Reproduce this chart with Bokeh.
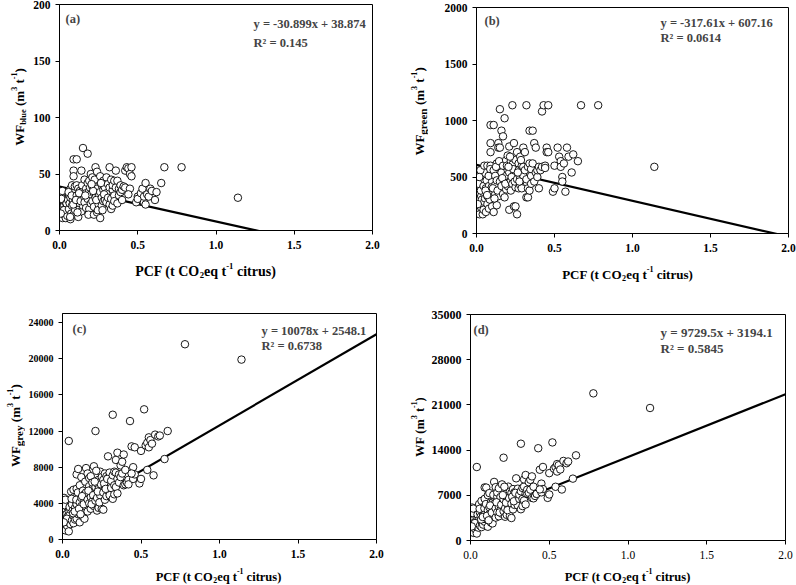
import math
from bokeh.plotting import figure
from bokeh.layouts import column, row
from bokeh.models import Label, Range1d, FixedTicker, NumeralTickFormatter
from bokeh.embed import file_html
from bokeh.resources import INLINE

# ---------------- data ----------------
pcf = [0.005,0.01,0.01,0.015,0.02,0.02,0.02,0.025,0.03,0.03,0.03,0.035,0.04,0.04,0.04,0.045,0.05,0.05,0.05,0.012,0.018,0.028,0.045,0.008,
       0.055,0.06,0.06,0.065,0.07,0.07,0.07,0.075,0.08,0.08,0.085,0.09,0.09,0.09,0.09,0.095,0.10,0.10,0.10,0.058,0.068,0.078,0.088,0.098,
       0.11,0.11,0.11,0.12,0.12,0.12,0.13,0.13,0.13,0.14,0.14,0.14,0.15,0.15,0.15,0.105,0.115,0.125,0.135,0.145,
       0.16,0.16,0.16,0.17,0.17,0.17,0.18,0.18,0.18,0.19,0.19,0.19,0.20,0.20,0.20,0.165,0.185,0.195,
       0.21,0.21,0.21,0.22,0.22,0.22,0.23,0.23,0.23,0.24,0.24,0.24,0.25,0.25,0.25,0.215,0.225,0.235,0.245,0.205,
       0.26,0.26,0.26,0.27,0.27,0.27,0.28,0.28,0.28,0.29,0.29,0.29,0.30,0.30,0.30,0.265,0.275,0.285,
       0.31,0.31,0.32,0.32,0.32,0.33,0.33,0.33,0.34,0.34,0.34,0.35,0.35,0.35,
       0.36,0.36,0.37,0.37,0.38,0.38,0.39,0.39,0.40,0.40,
       0.41,0.42,0.42,0.43,0.44,0.45,0.45,0.46,0.46,0.44,
       0.49,0.50,0.50,0.52,0.53,0.54,0.54,0.55,0.55,0.56,
       0.57,0.58,0.59,0.61,0.62,0.65,0.67,0.78,1.14]

wf_blue = [24,31,20,27,11,32,17,26,14,22,28,19,11,30,25,16,33,21,13,28,35,18,24,15,
           27,32,19,24,10,29,37,15,40,22,27,63,53,48,14,30,36,18,25,34,12,31,23,39,
           63,40,31,12,28,37,20,35,24,53,17,30,73,38,22,27,16,33,26,40,
           45,29,25,37,20,33,68,42,28,19,35,44,32,24,50,31,14,38,
           47,26,39,14,33,21,56,42,29,16,37,52,30,44,23,35,45,27,18,41,
           11,48,34,22,40,29,36,26,44,31,38,27,47,33,25,42,18,32,
           29,41,56,23,38,19,45,28,36,22,40,31,44,26,
           53,38,44,24,37,31,34,40,27,36,
           39,53,38,56,55,50,37,56,48,32,
           25,30,28,33,37,25,30,42,23,32,
           30,37,35,27,34,42,56,56,29]

wf_green = [360,470,300,400,170,420,250,560,230,330,480,300,170,450,380,210,600,350,280,440,500,380,420,260,
            310,400,190,470,260,600,330,380,220,420,300,960,800,720,600,520,350,460,240,380,340,510,570,410,
            960,190,560,430,350,510,620,470,250,800,330,760,1100,760,460,400,310,590,380,640,
            910,540,420,860,350,600,1020,470,320,650,510,390,560,420,690,490,440,600,
            770,210,540,470,640,380,1135,610,440,240,800,520,240,650,410,680,500,570,460,590,
            170,720,480,400,620,560,490,680,430,600,530,400,760,590,510,540,460,650,
            720,560,1135,320,480,320,590,400,910,380,620,510,440,570,
            910,620,800,460,760,540,500,560,400,590,
            560,590,1080,1135,600,760,720,1135,720,580,
            370,600,400,760,680,640,590,500,460,620,
            370,760,680,540,700,640,1135,1135,590]

wf_grey = [2600,4600,3000,3400,1000,4000,2100,2800,1500,2500,3600,1900,900,10900,3100,2700,4000,3300,1700,3800,4400,2300,3600,1900,
           5300,3900,2100,3200,1800,5500,2600,4700,2200,3500,4200,7200,5600,3900,2300,4900,7800,2800,3300,4500,2900,3100,4400,5200,
           6000,1900,4100,6900,3700,4600,3100,5400,2500,5000,2300,4300,7900,3600,5200,3400,2800,4800,3900,6400,
           7300,4400,3100,5900,4000,6800,7000,4700,3400,5600,4200,6300,8100,3700,5000,5400,3900,4900,
           12000,4300,5800,3200,6200,4600,5600,6600,3500,5100,7500,4900,5700,6900,3400,7600,5300,4100,6100,6400,
           3300,6600,5200,4400,7300,5900,6100,4800,7000,5400,6800,9200,6300,7400,4900,6200,5600,6700,
           5700,6500,13800,4500,7100,5000,7500,6000,7400,5800,8800,9600,5100,6700,
           6300,7200,8200,6900,8600,7300,9400,6000,6100,7700,
           6300,6600,6100,13100,10300,8000,6700,10200,7200,7300,
           6200,9800,6700,14400,10400,10700,7700,11300,10200,11000,
           10600,7100,11600,11400,11500,8900,12000,21600,19900]

wf_total = [2980,5100,3320,3830,1180,4450,2370,3390,1740,2850,4110,2220,1080,11380,3510,2930,4630,3670,1990,4270,4940,2700,4040,2180,
            5640,4330,2310,3690,2070,6130,2970,5100,2460,3940,4530,8220,6450,4670,2910,5450,8190,3280,3570,4910,3250,3640,4990,5650,
            7020,2130,4690,7340,4080,5150,3740,5910,2770,5850,2650,5090,9070,4400,5680,3830,3130,5420,4310,7080,
            8260,4970,3550,6800,4370,7430,8090,5210,3750,6270,4750,6730,8690,4140,5740,5920,4350,5540,
            12820,4540,6380,3680,6870,5000,6790,7250,3970,5360,8340,5470,5970,7590,3830,8320,5850,4700,6580,7030,
            3480,7370,5710,4820,7960,6490,6630,5510,7470,6030,7370,9630,7110,8020,5440,6780,6080,7380,
            6450,7100,14990,4840,7620,5340,8140,6430,8350,6200,9460,10140,5580,7300,
            7260,7860,9040,7380,9400,7870,9930,6600,6530,8330,
            6900,7240,7220,14290,10960,8810,7460,11390,7970,7910,
            6600,10430,7130,15190,11120,11370,8320,11840,10680,11650,
            11000,7900,12320,11970,12230,9580,13190,22790,20520]

slopes = [-30.899, -317.61, 10078, 9729.5]
intercepts = [38.874, 607.16, 2548.1, 3194.1]
equations = ["y = -30.899x + 38.874", "y = -317.61x + 607.16", "y = 10078x + 2548.1", "y = 9729.5x + 3194.1"]
r2_labels = ["R\u00b2 = 0.145", "R\u00b2 = 0.0614", "R\u00b2 = 0.6738", "R\u00b2 = 0.5845"]
tags = ["(a)", "(b)", "(c)", "(d)"]
y_subscripts = ["blue", "green", "grey", ""]
y_max = [200, 2000, 25000, 35000]
y_ticks = [[0, 50, 100, 150, 200],
           [0, 500, 1000, 1500, 2000],
           [0, 4000, 8000, 12000, 16000, 20000, 24000],
           [0, 7000, 14000, 21000, 28000, 35000]]
x_ticks = [0, 0.5, 1.0, 1.5, 2.0]
x_max = 2.0

FONT = "Liberation Serif"
FRAME_H = 226

# Times-Bold advance widths (per 1000 em) for composing rich labels
WID = {' ': 250, '(': 333, ')': 333, 'P': 611, 'C': 722, 'F': 611, 'O': 778, 'W': 1000,
       't': 333, 'e': 444, 'q': 556, 'c': 444, 'i': 278, 'r': 444, 'u': 556, 's': 389,
       'b': 556, 'l': 278, 'g': 500, 'n': 556, 'y': 500, 'm': 833, '-': 333}


def tw(s, size):
    return sum(WID.get(ch, 500) for ch in s) / 1000.0 * size


def rich(p, pieces, x, y, vertical=False):
    total = sum(tw(t, s) for t, s, _ in pieces)
    pos = -total / 2.0
    for t, s, sh in pieces:
        stripped = t.lstrip(" ")
        pos += tw(t[:len(t) - len(stripped)], s)
        if vertical:
            lab = Label(x=x, y=y, x_offset=-sh, y_offset=pos, text=stripped, angle=math.pi / 2,
                        text_font=FONT, text_font_style="bold", text_font_size=f"{s}px",
                        text_color="black", text_align="left", text_baseline="alphabetic")
        else:
            lab = Label(x=x, y=y, x_offset=pos, y_offset=sh, text=stripped,
                        text_font=FONT, text_font_style="bold", text_font_size=f"{s}px",
                        text_color="black", text_align="left", text_baseline="alphabetic")
        p.add_layout(lab)
        pos += tw(stripped, s)


def blank(w, h):
    f = figure(width=w, height=h, output_backend="svg", toolbar_location=None,
               x_range=Range1d(0, w), y_range=Range1d(0, h),
               x_axis_location=None, y_axis_location=None,
               min_border_left=0, min_border_right=0, min_border_top=0, min_border_bottom=0)
    f.outline_line_color = None
    f.background_fill_color = "white"
    f.border_fill_color = "white"
    f.grid.visible = False
    return f


# per-quadrant layout (pixels)
layout = [
    dict(W=400, H=290, yw=30, fl=57, fr=28, ft=4, fb=28, ytick=11.5, xbold=True,
         xl=14, xl_x=205, xl_base=271, yl=13, ysub=8.5, yl_base=19,
         tag_dx=6, tag_dy=-7, eq=12.5, eq_dx=194, eq_dy1=-12, eq_dy2=-31),
    dict(W=396, H=290, yw=28, fl=76, fr=8, ft=7, fb=28, ytick=11.5, xbold=True,
         xl=13, xl_x=227, xl_base=274, yl=13, ysub=11, yl_base=19,
         tag_dx=8, tag_dy=-6, eq=12.5, eq_dx=184, eq_dy1=-8, eq_dy2=-23),
    dict(W=400, H=295, yw=25, fl=61, fr=24, ft=23, fb=25, ytick=10, xbold=True,
         xl=12.5, xl_x=218, xl_base=286, yl=13, ysub=11, yl_base=15,
         tag_dx=10, tag_dy=-8, eq=12.5, eq_dx=199, eq_dy1=-10, eq_dy2=-25),
    dict(W=396, H=295, yw=28, fl=70, fr=11, ft=24, fb=25, ytick=12, xbold=False,
         xl=12.5, xl_x=227, xl_base=286, yl=12.5, ysub=8, yl_base=19,
         tag_dx=3, tag_dy=-8, eq=13, eq_dx=190, eq_dy1=-10, eq_dy2=-26),
]

series = [wf_blue, wf_green, wf_grey, wf_total]
quads = []
for i in range(4):
    L = layout[i]
    fw = L["W"] - L["yw"]
    fh = L["ft"] + FRAME_H + L["fb"]
    p = figure(width=fw, height=fh, output_backend="svg", toolbar_location=None,
               x_range=Range1d(0, x_max), y_range=Range1d(0, y_max[i]),
               min_border_left=L["fl"] - L["yw"], min_border_right=L["fr"],
               min_border_top=L["ft"], min_border_bottom=L["fb"])
    p.background_fill_color = "white"
    p.border_fill_color = "white"
    p.outline_line_color = "black"
    p.outline_line_width = 1
    p.xgrid.visible = False
    p.ygrid.visible = False

    p.xaxis.ticker = FixedTicker(ticks=x_ticks)
    p.xaxis.formatter = NumeralTickFormatter(format="0.0")
    p.yaxis.ticker = FixedTicker(ticks=y_ticks[i])
    for ax in (p.xaxis[0], p.yaxis[0]):
        ax.axis_line_color = "black"
        ax.major_tick_line_color = "black"
        ax.major_tick_in = 0
        ax.major_tick_out = 4
        ax.minor_tick_line_color = None
        ax.major_label_text_font = FONT
        ax.major_label_text_color = "black"
    p.yaxis.major_label_text_font_style = "bold"
    p.yaxis.major_label_text_font_size = f"{L['ytick']}px"
    p.yaxis.major_label_standoff = 5
    p.xaxis.major_label_text_font_style = "bold" if L["xbold"] else "normal"
    p.xaxis.major_label_text_font_size = "11.5px"
    p.xaxis.major_label_standoff = 6

    # regression line from the reported equation
    p.line(x=[0, x_max], y=[intercepts[i], slopes[i] * x_max + intercepts[i]],
           line_color="black", line_width=2.2)
    # observations
    p.scatter(x=pcf, y=series[i], marker="circle", size=7.5, fill_color="white",
              line_color="black", line_width=0.9)

    # panel tag and equation
    p.add_layout(Label(x=0, y=y_max[i], x_offset=L["tag_dx"], y_offset=L["tag_dy"], text=tags[i],
                       text_font=FONT, text_font_style="bold", text_font_size="12.5px",
                       text_baseline="top", text_align="left"))
    p.add_layout(Label(x=0, y=y_max[i], x_offset=L["eq_dx"], y_offset=L["eq_dy1"], text=equations[i],
                       text_font=FONT, text_font_style="bold", text_font_size=f"{L['eq']}px",
                       text_baseline="top", text_align="left"))
    p.add_layout(Label(x=0, y=y_max[i], x_offset=L["eq_dx"], y_offset=L["eq_dy2"], text=r2_labels[i],
                       text_font=FONT, text_font_style="bold", text_font_size=f"{L['eq']}px",
                       text_baseline="top", text_align="left"))

    # y axis label strip
    ylab = blank(L["yw"], fh)
    s = L["yl"]
    ss = round(s * 0.62, 1)
    pieces = [("WF", s, 0)]
    if y_subscripts[i]:
        pieces.append((y_subscripts[i], L["ysub"], -0.3 * s))
    pieces += [(" (m", s, 0), ("3", ss, 0.42 * s), (" t", s, 0), ("-1", ss, 0.42 * s), (")", s, 0)]
    rich(ylab, pieces, L["yl_base"], L["fb"] + FRAME_H / 2.0, vertical=True)

    # x axis label strip
    xh = L["H"] - fh
    xlab = blank(L["W"], xh)
    s = L["xl"]
    ss = round(s * 0.62, 1)
    rich(xlab, [("PCF (t CO", s, 0), ("2", ss, -0.25 * s), ("eq t", s, 0),
                ("-1", ss, 0.42 * s), (" citrus)", s, 0)],
         L["xl_x"], xh - (L["xl_base"] - fh))

    quads.append(column(row(ylab, p), xlab))

page = column(row(quads[0], quads[1]), row(quads[2], quads[3]))
open("out.html", "w").write(file_html(page, INLINE))
